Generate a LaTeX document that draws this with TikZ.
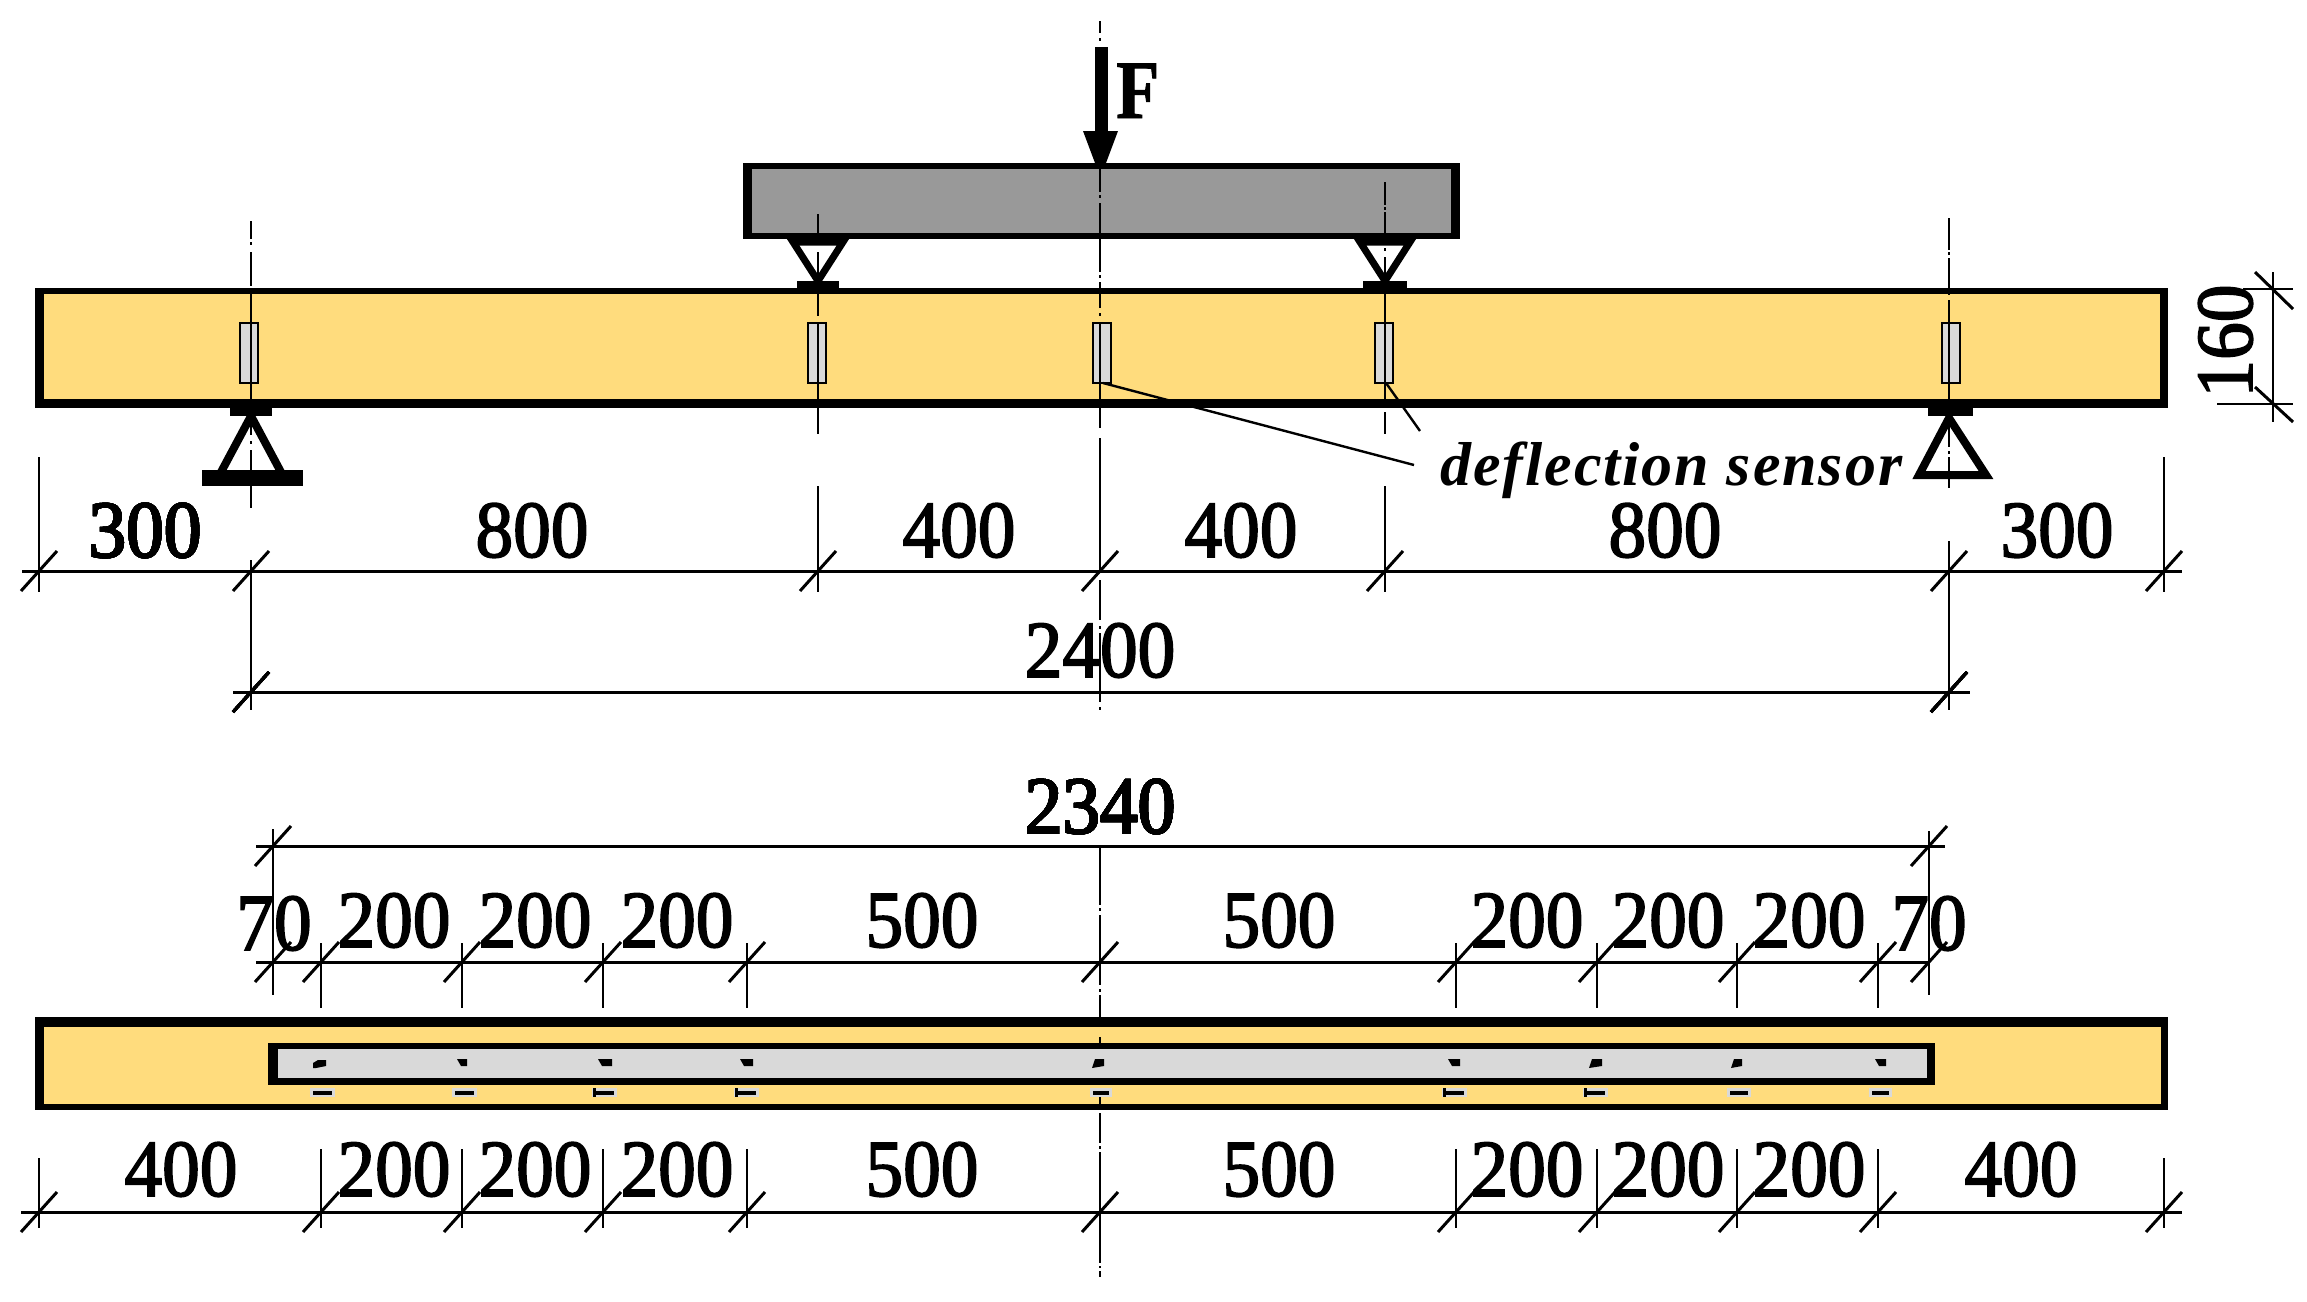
\documentclass[tikz,border=0pt]{standalone}
\usepackage{fontspec}
\setmainfont{Liberation Serif}
\newfontfamily\dimfont[FakeBold=2,FakeStretch=0.93]{Liberation Serif}
\newfontfamily\forcefont[FakeStretch=0.85,FakeBold=1]{Liberation Serif Bold}
\newfontfamily\sensorfont[LetterSpace=3.2]{Liberation Serif Bold Italic}
\definecolor{woodc}{HTML}{FFDC7D}
\definecolor{steelc}{HTML}{999999}
\definecolor{sensc}{HTML}{D9D9D9}
\tikzset{
  dimlabel/.style={inner sep=0pt,anchor=base,font=\dimfont\fontsize{81}{90}\selectfont},
  thinline/.style={line width=2.4pt,black},
  dimline/.style={line width=3pt,black},
  slash/.style={line width=3pt,black},
  gaugerect/.style={draw=black,line width=2.4pt,fill=sensc},
}
\newcommand\dtick[2]{\draw[slash] (#1-18,#2+20) -- (#1+18,#2-20);}
\newcommand\vsegs[2]{\foreach \sa/\sb in {#2} \draw[thinline] (#1,\sa) -- (#1,\sb);}
\newcommand\gaugebar[2]{\fill[sensc] (#1,1088) rectangle (#2,1097);
  \fill[black] (#1+3,1091) rectangle (#2-3,1095);}
\begin{document}
\begin{tikzpicture}[x=1pt,y=-1pt]
\useasboundingbox (0,0) rectangle (2307,1301);
% upper beam
\fill[black] (35,288) rectangle (2168,408);
\fill[woodc] (44,294) rectangle (2160,399);
% steel spreader
\fill[black] (743,163) rectangle (1460,239);
\fill[steelc] (752,169) rectangle (1451,233);
% gauges
\foreach \gx in {240,808,1093,1375,1942}
  \draw[gaugerect] (\gx,323) rectangle (\gx+18,383);
% centre lines
\vsegs{251}{221/239,242/245,252/286,293/323,323/383,383/408,416/435,441/444,450/508}
\vsegs{818}{214/239,252/281,288/316,323/383,383/434}
\vsegs{1385}{182/205,207/210,212/233,248/251,257/281,288/323,323/383,383/408,412/434}
\vsegs{1949}{218/250,252/255,258/295,300/323,323/383,383/408,417/447,451/454,457/488}
\vsegs{1100}{21/33,38/41,169/192,195/198,203/272,275/278,282/308,313/316,323/428,438/570,580/620,626/629,633/702,707/710,848/905,908/911,915/985,989/992,995/1017}
% supports on top
\foreach \sx/\pa/\pb in {818/797/839,1385/1363/1407}{
  \draw[line width=7pt,black,line join=miter] (\sx-25,242) -- (\sx,281) -- (\sx+25,242) -- cycle;
  \fill[black] (\pa,281) rectangle (\pb,288);
}
% support left
\fill[black] (230,408) rectangle (272,416);
\draw[line width=8pt,black] (251,416) -- (220,474) -- (282,474) -- cycle;
\fill[black] (202,470) rectangle (303,486);
\vsegs{251}{416/435,441/444,450/470}
% support right
\fill[black] (1928,408) rectangle (1973,416);
\draw[line width=8pt,black] (1949,418) -- (1919,475) -- (1986,475) -- cycle;
% force
\fill[black] (1095,47) rectangle (1108,131);
\fill[black] (1083,131) -- (1118,131) -- (1106,163) -- (1095,163) -- cycle;
\node[inner sep=0pt,anchor=base west,font=\forcefont\fontsize{83}{90}\selectfont] (force) at (1116,118) {F};
% leaders
\coordinate (leadA) at (1414,465);
\coordinate (leadB) at (1420,431);
\draw[thinline] (1103,383) -- (leadA);
\draw[thinline] (1386,383) -- (leadB);
\node[inner sep=0pt,anchor=base west,font=\sensorfont\fontsize{62}{70}\selectfont] (sensorlabel) at (1440,485) {deflection sensor};
% dimension verticals (upper)
\draw[thinline] (39,457) -- (39,592);
\draw[thinline] (251,560) -- (251,710);
\draw[thinline] (818,486) -- (818,592);
\draw[thinline] (1385,486) -- (1385,592);
\draw[thinline] (1949,541) -- (1949,710);
\draw[thinline] (2164,457) -- (2164,592);
% dimension lines upper
\draw[dimline] (22,571) -- (2182,571);
\draw[dimline] (233,692) -- (1970,692);
\foreach \tx in {39,251,818,1100,1385,1949,2164} \dtick{\tx}{571}
\dtick{251}{692}
\dtick{1949}{692}
\node[dimlabel] (ta) at (145,557) {300};
\node[dimlabel] (tb) at (532,557) {800};
\node[dimlabel] (tc) at (959,557) {400};
\node[dimlabel] (td) at (1241,557) {400};
\node[dimlabel] (te) at (1665,557) {800};
\node[dimlabel] (tf) at (2057,557) {300};
\node[dimlabel] (span) at (1100,677) {2400};
% height dim
\draw[thinline] (2273,272) -- (2273,422);
\draw[thinline] (2243,289) -- (2293,289);
\draw[thinline] (2217,404) -- (2293,404);
\draw[slash] (2255,272) -- (2293,309);
\draw[slash] (2255,387) -- (2293,422);
\node[dimlabel,rotate=90,anchor=base] (height) at (2252,341) {160};
% lower beam
\fill[black] (35,1017) rectangle (2168,1110);
\fill[woodc] (44,1027) rectangle (2161,1104);
\fill[black] (268,1043) rectangle (1935,1085);
\fill[sensc] (278,1049) rectangle (1927,1078);
\vsegs{1100}{1037/1049,1078/1085,1097/1104,1113/1143,1146/1149,1152/1263,1266/1268,1271/1277}
% small marks
\foreach \ma/\mb in {457/467,598/612,740/753,1448/1460,1875/1886}
  \fill[black] (\ma,1059) -- (\mb,1059) -- (\mb,1066) -- (\ma+4,1066) -- cycle;
\foreach \ma/\mb in {1092/1104,1589/1602,1731/1742}
  \fill[black] (\ma+3,1059) -- (\mb,1059) -- (\mb,1066) -- (\ma,1068) -- cycle;
\fill[black] (318,1060) -- (326,1060) -- (326,1066) -- (316,1068) -- (313,1068) -- (313,1063) -- cycle;
\gaugebar{310}{335}\gaugebar{452}{477}\gaugebar{592}{617}\gaugebar{734}{759}\gaugebar{1090}{1112}\gaugebar{1442}{1467}\gaugebar{1583}{1608}\gaugebar{1727}{1751}\gaugebar{1869}{1892}
\foreach \sx in {593,735,1443,1584} \fill[black] (\sx,1088) rectangle (\sx+3,1097);
% lower dims
\draw[thinline] (273,829) -- (273,995);
\draw[thinline] (1929,831) -- (1929,995);
\draw[dimline] (256,846) -- (1945,846);
\draw[dimline] (256,962) -- (1929,962);
\dtick{273}{846}\dtick{1929}{846}
\foreach \tx in {321,462,603,747,1456,1597,1737,1878}
  \draw[thinline] (\tx,943) -- (\tx,1008);
\foreach \tx in {273,321,462,603,747,1100,1456,1597,1737,1878,1929} \dtick{\tx}{962}
\draw[dimline] (21,1212) -- (2182,1212);
\foreach \tx in {39,2164} \draw[thinline] (\tx,1158) -- (\tx,1228);
\foreach \tx in {321,462,603,747,1456,1597,1737,1878} \draw[thinline] (\tx,1149) -- (\tx,1228);
\foreach \tx in {39,321,462,603,747,1100,1456,1597,1737,1878,2164} \dtick{\tx}{1212}
\node[dimlabel] (total) at (1100,833) {2340};
\node[dimlabel] (ua) at (274,950) {70};
\node[dimlabel] (ub) at (394,947) {200};
\node[dimlabel] (uc) at (535,947) {200};
\node[dimlabel] (ud) at (677,947) {200};
\node[dimlabel] (ue) at (922,947) {500};
\node[dimlabel] (uf) at (1279,947) {500};
\node[dimlabel] (ug) at (1527,947) {200};
\node[dimlabel] (uh) at (1668,947) {200};
\node[dimlabel] (ui) at (1809,947) {200};
\node[dimlabel] (uj) at (1929,950) {70};
\node[dimlabel] (la) at (181,1196) {400};
\node[dimlabel] (lb) at (394,1196) {200};
\node[dimlabel] (lc) at (535,1196) {200};
\node[dimlabel] (ld) at (677,1196) {200};
\node[dimlabel] (le) at (922,1196) {500};
\node[dimlabel] (lf) at (1279,1196) {500};
\node[dimlabel] (lg) at (1527,1196) {200};
\node[dimlabel] (lh) at (1668,1196) {200};
\node[dimlabel] (li) at (1809,1196) {200};
\node[dimlabel] (lj) at (2021,1196) {400};
\end{tikzpicture}
\end{document}
